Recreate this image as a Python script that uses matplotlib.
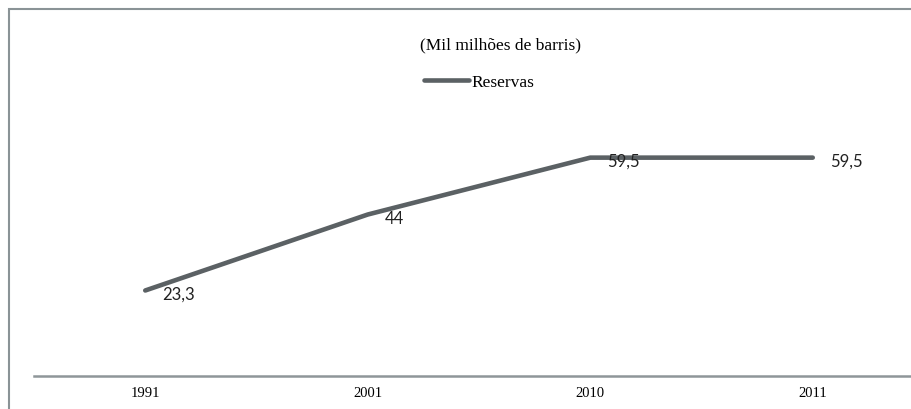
import matplotlib.pyplot as plt
from matplotlib.patches import Rectangle

years = ["1991", "2001", "2010", "2011"]
reservas = [23.3, 44, 59.5, 59.5]
labels = ["23,3", "44", "59,5", "59,5"]

W, H = 912, 410
fig = plt.figure(figsize=(W / 100, H / 100), dpi=100)

# outer chart border (only top and left visible in the crop)
fig.patches.append(Rectangle((9 / W, -0.1), 1.2, 1 - 10 / H + 0.1, transform=fig.transFigure,
                             fill=False, edgecolor="#8a9396", linewidth=1.5))

ax = fig.add_axes([34 / W, 1 - 377 / H, 890 / W, 367 / H])
ax.set_facecolor("none")
x = range(len(years))
ax.plot(x, reservas, color="#5b6164", linewidth=3.3, solid_capstyle="round", label="Reservas")
for xi, v, lab in zip(x, reservas, labels):
    ax.annotate(lab, (xi, v), xytext=(17, -3), textcoords="offset pixels",
                ha="left", va="center", fontsize=12, family="Lato", color="#222222")

ax.set_xlim(-0.5, len(years) - 0.5)
ax.set_ylim(0, 100)
ax.set_xticks(list(x), years, family="Liberation Serif", fontsize=10.5)
ax.tick_params(axis="x", length=0, pad=7)
ax.set_yticks([])
for s in ["top", "right", "left"]:
    ax.spines[s].set_visible(False)
ax.spines["bottom"].set_color("#8f9699")
ax.spines["bottom"].set_linewidth(1.8)

fig.text(500 / W, 1 - 45 / H, "(Mil milhões de barris)", ha="center", va="center",
         family="Liberation Serif", fontsize=12.5)
leg = ax.legend(loc="center", bbox_to_anchor=(479 / W, 1 - 83 / H), bbox_transform=fig.transFigure,
                frameon=False, prop={"family": "Liberation Serif", "size": 12.5},
                handlelength=2.6, handletextpad=0.1)

fig.savefig("out.png", dpi=100)
